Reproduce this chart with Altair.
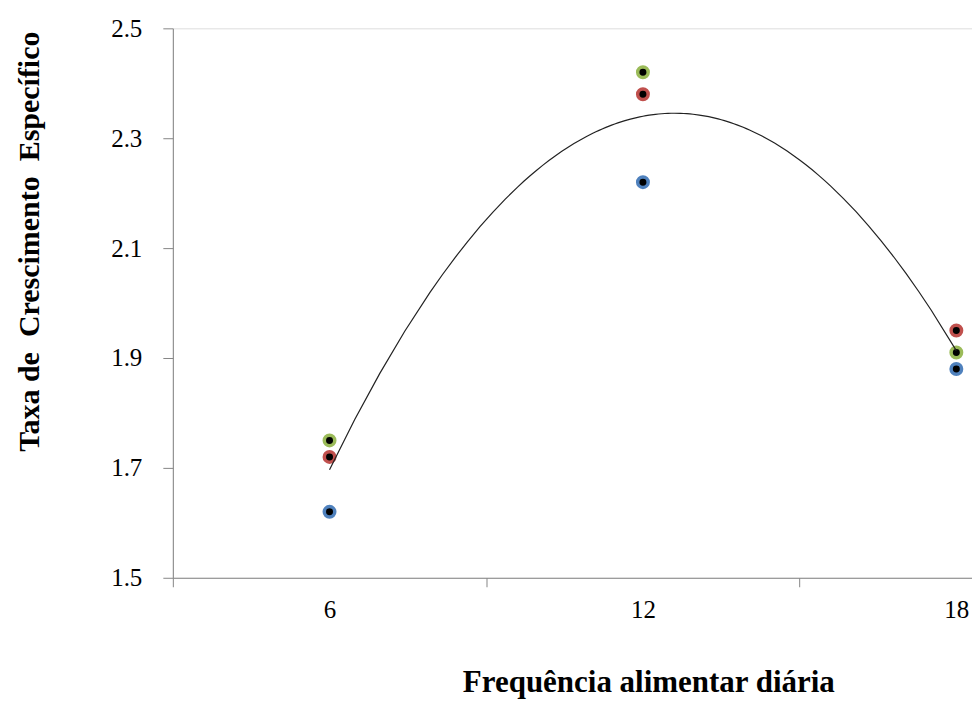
import altair as alt
import pandas as pd

# Daily feeding frequency (x) and specific growth rate of three replicates
frequencies = [6, 12, 18]
series_names = ["Verde", "Vermelho", "Azul"]
series_colors = ["#9BBB59", "#C0504D", "#4F81BD"]
verde = [1.75, 2.42, 1.91]
vermelho = [1.72, 2.38, 1.95]
azul = [1.62, 2.22, 1.88]

y_ticks = [1.5, 1.7, 1.9, 2.1, 2.3, 2.5]
x_ticks = [3, 6, 9, 12, 15, 18]

rows = []
for name, vals in zip(series_names, [verde, vermelho, azul]):
    for f, v in zip(frequencies, vals):
        rows.append({"freq": f, "tce": v, "serie": name})
df = pd.DataFrame(rows)

FONT = "Liberation Serif"

x_enc = alt.X(
    "freq:Q",
    scale=alt.Scale(domain=[3, 18.3], nice=False, zero=False),
    axis=alt.Axis(
        values=x_ticks,
        labelExpr="datum.value % 6 == 0 ? datum.label : ''",
        tickOpacity={"condition": {"test": "datum.value % 6 == 3", "value": 1}, "value": 0},
        title="Frequência alimentar diária",
        titleFont=FONT,
        titleFontSize=31,
        titleFontWeight="bold",
        titleColor="black",
        titleX=476,
        titleY=114,
        titleBaseline="alphabetic",
        labelFont=FONT,
        labelFontSize=25,
        labelColor="black",
        labelPadding=11,
        tickSize=9,
        grid=False,
        domainColor="#868686",
        tickColor="#868686",
    ),
)

y_enc = alt.Y(
    "tce:Q",
    scale=alt.Scale(domain=[1.5, 2.5], nice=False, zero=False),
    axis=alt.Axis(
        values=y_ticks,
        format=".1f",
        title="Taxa de\u00a0 Crescimento\u00a0 Específico",
        titleFont=FONT,
        titleFontSize=30,
        titleFontWeight="bold",
        titleColor="black",
        titleX=-143,
        titleY=213,
        titleBaseline="middle",
        labelFont=FONT,
        labelFontSize=25,
        labelColor="black",
        labelPadding=21,
        tickSize=10,
        grid=False,
        domainColor="#868686",
        tickColor="#868686",
    ),
)

points = alt.Chart(df).mark_point(
    filled=False, fill="black", fillOpacity=1, size=110, strokeWidth=3.5, opacity=1
).encode(
    x=x_enc,
    y=y_enc,
    stroke=alt.Stroke(
        "serie:N",
        scale=alt.Scale(domain=series_names, range=series_colors),
        legend=None,
    ),
)

trend = alt.Chart(df).transform_regression(
    "freq", "tce", method="poly", order=2, extent=[6, 18]
).mark_line(color="#222222", strokeWidth=1.2).encode(
    x="freq:Q",
    y="tce:Q",
)

chart = alt.layer(points, trend).properties(
    width=800,
    height=550,
    autosize="none",
    padding={"left": 165, "top": 20, "right": 0, "bottom": 127},
).configure_view(stroke=None).configure(background="white")

chart.save("out.html", embed_options={"renderer": "svg", "actions": False})
